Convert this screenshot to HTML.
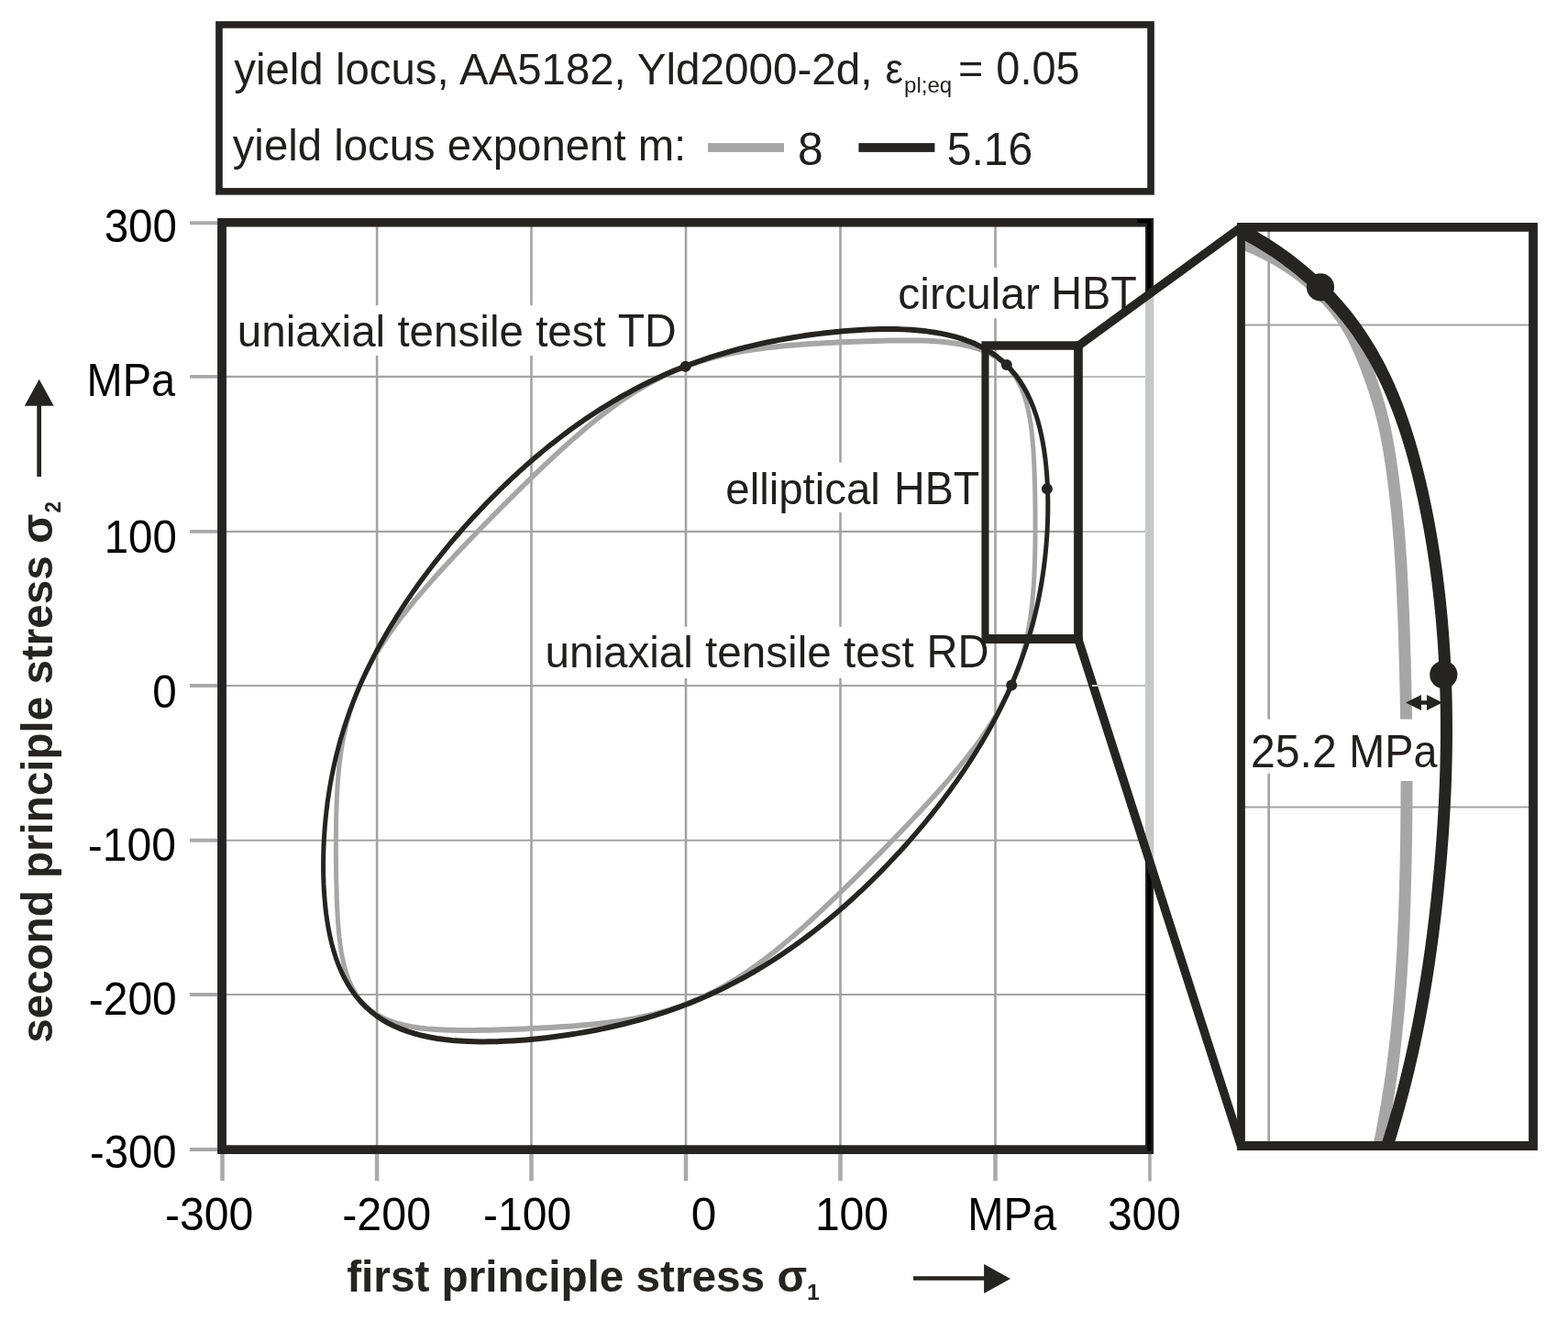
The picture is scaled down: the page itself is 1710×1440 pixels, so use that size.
<!DOCTYPE html>
<html lang="en"><head><meta charset="utf-8"><title>yield locus</title>
<style>html,body{margin:0;padding:0;background:#fff;}body{width:1710px;height:1440px;overflow:hidden;}svg{display:block;}text{font-family:"Liberation Sans",Arial,sans-serif;}</style></head><body>
<svg width="1710" height="1440" viewBox="0 0 1710 1440">
<rect width="1710" height="1440" fill="#fff"/>
<rect x="238.95" y="26.95" width="1016.1" height="181.9" fill="#fff" stroke="#262422" stroke-width="7.6"/>
<rect x="772" y="156.1" width="83" height="9.8" fill="#a6a6a6"/>
<rect x="936.4" y="156.1" width="83" height="9.8" fill="#262422"/>
<g stroke="#a3a3a3" fill="none">
<line x1="411.1" y1="243" x2="411.1" y2="1255" stroke-width="2.6"/>
<line x1="579.5" y1="243" x2="579.5" y2="1255" stroke-width="2.6"/>
<line x1="748.0" y1="243" x2="748.0" y2="1255" stroke-width="2.6"/>
<line x1="916.5" y1="243" x2="916.5" y2="1255" stroke-width="2.6"/>
<line x1="1085.5" y1="243" x2="1085.5" y2="1255" stroke-width="2.6"/>
<line x1="240" y1="410.9" x2="1253" y2="410.9" stroke-width="2.1"/>
<line x1="240" y1="579.9" x2="1253" y2="579.9" stroke-width="2.1"/>
<line x1="240" y1="748.0" x2="1253" y2="748.0" stroke-width="2.1"/>
<line x1="240" y1="916.7" x2="1253" y2="916.7" stroke-width="2.1"/>
<line x1="240" y1="1085.0" x2="1253" y2="1085.0" stroke-width="2.1"/>
</g>
<g stroke="#a9a9a9" fill="none">
<line x1="242.5" y1="1255" x2="242.5" y2="1288.3" stroke-width="4.5"/>
<line x1="411.1" y1="1255" x2="411.1" y2="1288.3" stroke-width="4.5"/>
<line x1="579.5" y1="1255" x2="579.5" y2="1288.3" stroke-width="4.5"/>
<line x1="748.0" y1="1255" x2="748.0" y2="1288.3" stroke-width="4.5"/>
<line x1="916.5" y1="1255" x2="916.5" y2="1288.3" stroke-width="4.5"/>
<line x1="1085.5" y1="1255" x2="1085.5" y2="1288.3" stroke-width="4.5"/>
<line x1="1254" y1="1257" x2="1254" y2="1288.6" stroke-width="3.5"/>
<line x1="207" y1="243.2" x2="240" y2="243.2" stroke-width="3.9"/>
<line x1="207" y1="410.9" x2="240" y2="410.9" stroke-width="3.9"/>
<line x1="207" y1="579.9" x2="240" y2="579.9" stroke-width="3.9"/>
<line x1="207" y1="748.0" x2="240" y2="748.0" stroke-width="3.9"/>
<line x1="207" y1="916.7" x2="240" y2="916.7" stroke-width="3.9"/>
<line x1="207" y1="1085.0" x2="240" y2="1085.0" stroke-width="3.9"/>
<line x1="207" y1="1254.0" x2="240" y2="1254.0" stroke-width="3.9"/>
</g>
<g fill="#fff">
<rect x="258" y="333.2" width="480" height="54.7"/>
<rect x="978" y="291.9" width="265" height="55.3"/>
<rect x="790" y="504.6" width="279" height="54.4"/>
<rect x="595" y="683.8" width="475" height="56.1"/>
</g>
<g transform="scale(1,1.2000)" fill="none" stroke-width="5.0" stroke-linejoin="round">
<path d="M1103.03,623.08 L1105.42,618.40 L1107.68,613.66 L1109.83,608.85 L1111.84,603.99 L1113.73,599.08 L1115.48,594.11 L1117.11,589.10 L1118.60,584.04 L1119.97,578.93 L1121.21,573.78 L1122.34,568.60 L1123.35,563.37 L1124.25,558.10 L1125.05,552.79 L1125.75,547.45 L1126.37,542.06 L1126.90,536.64 L1127.36,531.17 L1127.74,525.65 L1128.07,520.09 L1128.33,514.48 L1128.55,508.82 L1128.72,503.10 L1128.85,497.33 L1128.94,491.49 L1129.00,485.58 L1129.03,479.60 L1129.03,473.55 L1129.00,467.42 L1128.94,461.21 L1128.86,454.91 L1128.73,448.52 L1128.57,442.04 L1128.37,435.48 L1128.11,428.82 L1127.78,422.08 L1127.37,415.25 L1126.85,408.36 L1126.20,401.41 L1125.38,394.41 L1124.36,387.41 L1123.09,380.43 L1121.52,373.51 L1119.59,366.71 L1117.23,360.07 L1114.39,353.68 L1111.01,347.59 L1107.03,341.89 L1102.43,336.62 L1097.19,331.84 L1091.32,327.59 L1084.86,323.88 L1077.87,320.71 L1070.41,318.05 L1062.57,315.86 L1054.43,314.10 L1046.08,312.72 L1037.59,311.65 L1029.01,310.86 L1020.42,310.28 L1011.84,309.89 L1003.32,309.64 L994.87,309.51 L986.53,309.48 L978.29,309.51 L970.17,309.60 L962.17,309.74 L954.30,309.91 L946.55,310.11 L938.92,310.33 L931.41,310.58 L924.02,310.84 L916.73,311.11 L909.55,311.41 L902.47,311.71 L895.48,312.04 L888.58,312.38 L881.77,312.75 L875.04,313.14 L868.39,313.55 L861.81,314.00 L855.29,314.47 L848.84,314.99 L842.46,315.54 L836.13,316.14 L829.86,316.79 L823.64,317.49 L817.48,318.25 L811.37,319.07 L805.31,319.96 L799.31,320.91 L793.35,321.94 L787.45,323.04 L781.60,324.23 L775.80,325.50 L770.07,326.84 L764.38,328.28 L758.76,329.80 L753.20,331.40 L747.70,333.09 L742.27,334.87 L736.90,336.72 L731.60,338.66 L726.38,340.67 L721.23,342.75 L716.15,344.91 L711.14,347.12 L706.21,349.40 L701.36,351.73 L696.58,354.12 L691.88,356.55 L687.25,359.02 L682.70,361.53 L678.22,364.07 L673.82,366.64 L669.49,369.23 L665.22,371.85 L661.03,374.48 L656.90,377.12 L652.83,379.78 L648.83,382.44 L644.89,385.11 L641.00,387.78 L637.17,390.45 L633.40,393.13 L629.67,395.80 L626.00,398.46 L622.37,401.13 L618.78,403.79 L615.24,406.44 L611.74,409.09 L608.27,411.73 L604.84,414.37 L601.45,417.00 L598.08,419.62 L594.75,422.24 L591.44,424.85 L588.16,427.45 L584.90,430.05 L581.67,432.65 L578.46,435.24 L575.26,437.83 L572.08,440.41 L568.92,442.99 L565.77,445.57 L562.63,448.15 L559.51,450.73 L556.39,453.31 L553.28,455.90 L550.18,458.48 L547.08,461.07 L543.99,463.67 L540.89,466.27 L537.80,468.88 L534.71,471.49 L531.62,474.12 L528.52,476.75 L525.42,479.40 L522.31,482.06 L519.20,484.74 L516.08,487.43 L512.95,490.14 L509.82,492.87 L506.67,495.61 L503.51,498.38 L500.34,501.18 L497.16,503.99 L493.96,506.84 L490.75,509.71 L487.53,512.61 L484.29,515.55 L481.04,518.52 L477.77,521.52 L474.49,524.56 L471.20,527.64 L467.89,530.76 L464.57,533.93 L461.24,537.14 L457.90,540.40 L454.55,543.71 L451.20,547.07 L447.84,550.49 L444.49,553.96 L441.13,557.49 L437.79,561.08 L434.45,564.73 L431.13,568.45 L427.83,572.23 L424.56,576.09 L421.32,580.01 L418.12,584.00 L414.97,588.06 L411.87,592.19 L408.84,596.39 L405.87,600.66 L402.98,605.01 L400.18,609.43 L397.47,613.91 L394.87,618.46 L392.37,623.08 L389.98,627.77 L387.72,632.51 L385.57,637.31 L383.56,642.17 L381.67,647.09 L379.92,652.05 L378.29,657.07 L376.80,662.13 L375.43,667.23 L374.19,672.38 L373.06,677.57 L372.05,682.80 L371.15,688.07 L370.35,693.37 L369.65,698.72 L369.03,704.10 L368.50,709.53 L368.04,715.00 L367.66,720.51 L367.33,726.07 L367.07,731.68 L366.85,737.35 L366.68,743.06 L366.55,748.84 L366.46,754.68 L366.40,760.59 L366.37,766.56 L366.37,772.62 L366.40,778.75 L366.46,784.96 L366.54,791.26 L366.67,797.65 L366.83,804.12 L367.03,810.69 L367.29,817.35 L367.62,824.09 L368.03,830.91 L368.55,837.81 L369.20,844.76 L370.02,851.75 L371.04,858.76 L372.31,865.74 L373.88,872.66 L375.81,879.46 L378.17,886.09 L381.01,892.49 L384.39,898.57 L388.37,904.28 L392.97,909.55 L398.21,914.33 L404.08,918.58 L410.54,922.29 L417.53,925.46 L424.99,928.12 L432.83,930.31 L440.97,932.07 L449.32,933.45 L457.81,934.52 L466.39,935.31 L474.98,935.88 L483.56,936.28 L492.08,936.52 L500.53,936.65 L508.87,936.69 L517.11,936.66 L525.23,936.56 L533.23,936.43 L541.10,936.26 L548.85,936.06 L556.48,935.83 L563.99,935.59 L571.38,935.33 L578.67,935.05 L585.85,934.76 L592.93,934.45 L599.92,934.13 L606.82,933.78 L613.63,933.42 L620.36,933.03 L627.01,932.61 L633.59,932.17 L640.11,931.69 L646.56,931.18 L652.94,930.62 L659.27,930.03 L665.54,929.38 L671.76,928.68 L677.92,927.92 L684.03,927.10 L690.09,926.21 L696.09,925.26 L702.05,924.23 L707.95,923.12 L713.80,921.94 L719.60,920.67 L725.33,919.32 L731.02,917.89 L736.64,916.37 L742.20,914.76 L747.70,913.07 L753.13,911.30 L758.50,909.44 L763.80,907.51 L769.02,905.50 L774.17,903.41 L779.25,901.26 L784.26,899.04 L789.19,896.77 L794.04,894.43 L798.82,892.05 L803.52,889.62 L808.15,887.15 L812.70,884.64 L817.18,882.10 L821.58,879.53 L825.91,876.93 L830.18,874.32 L834.37,871.69 L838.50,869.04 L842.57,866.39 L846.57,863.73 L850.51,861.06 L854.40,858.39 L858.23,855.71 L862.00,853.04 L865.73,850.37 L869.40,847.70 L873.03,845.04 L876.62,842.38 L880.16,839.72 L883.66,837.08 L887.13,834.43 L890.56,831.80 L893.95,829.17 L897.32,826.55 L900.65,823.93 L903.96,821.32 L907.24,818.71 L910.50,816.11 L913.73,813.52 L916.94,810.93 L920.14,808.34 L923.32,805.76 L926.48,803.17 L929.63,800.59 L932.77,798.01 L935.89,795.43 L939.01,792.85 L942.12,790.27 L945.22,787.68 L948.32,785.09 L951.41,782.50 L954.51,779.90 L957.60,777.29 L960.69,774.68 L963.78,772.05 L966.88,769.41 L969.98,766.77 L973.09,764.10 L976.20,761.43 L979.32,758.74 L982.45,756.03 L985.58,753.30 L988.73,750.55 L991.89,747.78 L995.06,744.99 L998.24,742.17 L1001.44,739.33 L1004.65,736.46 L1007.87,733.55 L1011.11,730.62 L1014.36,727.65 L1017.63,724.65 L1020.91,721.61 L1024.20,718.53 L1027.51,715.40 L1030.83,712.24 L1034.16,709.03 L1037.50,705.77 L1040.85,702.46 L1044.20,699.10 L1047.56,695.68 L1050.91,692.21 L1054.27,688.68 L1057.61,685.09 L1060.95,681.43 L1064.27,677.72 L1067.57,673.93 L1070.84,670.08 L1074.08,666.16 L1077.28,662.17 L1080.43,658.11 L1083.53,653.98 L1086.56,649.78 L1089.53,645.50 L1092.42,641.16 L1095.22,636.74 L1097.93,632.26 L1100.53,627.70Z" stroke="#a6a6a6"/>
<path d="M1102.79,623.08 L1105.19,618.40 L1107.54,613.66 L1109.83,608.85 L1112.07,603.98 L1114.26,599.04 L1116.37,594.04 L1118.43,588.98 L1120.41,583.85 L1122.33,578.65 L1124.17,573.39 L1125.94,568.07 L1127.63,562.69 L1129.24,557.24 L1130.77,551.73 L1132.21,546.16 L1133.57,540.52 L1134.85,534.82 L1136.03,529.07 L1137.13,523.25 L1138.14,517.37 L1139.05,511.43 L1139.87,505.42 L1140.60,499.36 L1141.23,493.24 L1141.76,487.06 L1142.19,480.82 L1142.51,474.53 L1142.73,468.18 L1142.83,461.77 L1142.82,455.32 L1142.67,448.81 L1142.40,442.26 L1141.98,435.67 L1141.40,429.05 L1140.67,422.41 L1139.75,415.75 L1138.63,409.09 L1137.30,402.44 L1135.74,395.81 L1133.93,389.24 L1131.85,382.73 L1129.46,376.31 L1126.76,370.01 L1123.72,363.86 L1120.32,357.87 L1116.55,352.10 L1112.39,346.55 L1107.82,341.27 L1102.86,336.27 L1097.50,331.58 L1091.75,327.22 L1085.62,323.21 L1079.14,319.54 L1072.34,316.23 L1065.24,313.26 L1057.87,310.64 L1050.29,308.34 L1042.52,306.35 L1034.59,304.66 L1026.56,303.24 L1018.43,302.07 L1010.26,301.13 L1002.06,300.40 L993.85,299.85 L985.66,299.48 L977.51,299.26 L969.40,299.18 L961.36,299.21 L953.38,299.36 L945.48,299.61 L937.67,299.94 L929.94,300.36 L922.29,300.85 L914.74,301.41 L907.28,302.03 L899.92,302.71 L892.64,303.44 L885.45,304.23 L878.36,305.06 L871.35,305.95 L864.43,306.88 L857.60,307.86 L850.85,308.88 L844.18,309.95 L837.59,311.06 L831.09,312.21 L824.66,313.41 L818.30,314.65 L812.03,315.94 L805.82,317.26 L799.70,318.63 L793.64,320.05 L787.65,321.50 L781.74,323.00 L775.90,324.54 L770.12,326.12 L764.41,327.74 L758.78,329.40 L753.20,331.10 L747.70,332.83 L742.26,334.61 L736.89,336.42 L731.58,338.27 L726.34,340.16 L721.16,342.08 L716.05,344.03 L710.99,346.01 L706.00,348.02 L701.07,350.07 L696.20,352.14 L691.40,354.24 L686.65,356.37 L681.95,358.52 L677.32,360.69 L672.74,362.89 L668.22,365.11 L663.75,367.35 L659.33,369.62 L654.97,371.90 L650.66,374.20 L646.40,376.52 L642.19,378.85 L638.02,381.20 L633.90,383.57 L629.83,385.95 L625.81,388.35 L621.82,390.76 L617.88,393.19 L613.99,395.63 L610.13,398.08 L606.31,400.55 L602.53,403.02 L598.78,405.51 L595.07,408.02 L591.40,410.53 L587.76,413.06 L584.15,415.59 L580.57,418.15 L577.02,420.71 L573.50,423.28 L570.01,425.87 L566.55,428.47 L563.11,431.08 L559.70,433.71 L556.32,436.35 L552.95,439.00 L549.61,441.67 L546.29,444.35 L542.99,447.05 L539.71,449.76 L536.45,452.49 L533.21,455.23 L529.98,457.99 L526.77,460.77 L523.58,463.57 L520.40,466.38 L517.24,469.22 L514.08,472.07 L510.95,474.95 L507.82,477.85 L504.71,480.77 L501.61,483.71 L498.52,486.68 L495.44,489.67 L492.37,492.69 L489.30,495.74 L486.25,498.81 L483.21,501.91 L480.18,505.04 L477.15,508.21 L474.13,511.40 L471.13,514.63 L468.13,517.89 L465.14,521.19 L462.15,524.52 L459.18,527.89 L456.21,531.30 L453.26,534.75 L450.31,538.23 L447.38,541.77 L444.45,545.34 L441.54,548.96 L438.64,552.63 L435.76,556.34 L432.88,560.10 L430.03,563.91 L427.19,567.77 L424.37,571.68 L421.57,575.65 L418.79,579.67 L416.03,583.75 L413.30,587.88 L410.59,592.07 L407.92,596.32 L405.27,600.63 L402.66,604.99 L400.09,609.42 L397.55,613.91 L395.06,618.47 L392.61,623.08 L390.21,627.76 L387.86,632.51 L385.57,637.31 L383.33,642.19 L381.14,647.12 L379.03,652.12 L376.97,657.19 L374.99,662.32 L373.07,667.51 L371.23,672.77 L369.46,678.09 L367.77,683.48 L366.16,688.93 L364.63,694.44 L363.19,700.01 L361.83,705.65 L360.55,711.34 L359.37,717.10 L358.27,722.92 L357.26,728.80 L356.35,734.74 L355.53,740.74 L354.80,746.80 L354.17,752.92 L353.64,759.10 L353.21,765.34 L352.89,771.64 L352.67,777.99 L352.57,784.39 L352.58,790.85 L352.73,797.36 L353.00,803.91 L353.42,810.49 L354.00,817.11 L354.73,823.76 L355.65,830.42 L356.77,837.08 L358.10,843.73 L359.66,850.35 L361.47,856.93 L363.55,863.44 L365.94,869.85 L368.64,876.15 L371.68,882.31 L375.08,888.29 L378.85,894.07 L383.01,899.62 L387.58,904.90 L392.54,909.90 L397.90,914.58 L403.65,918.94 L409.78,922.96 L416.26,926.63 L423.06,929.94 L430.16,932.91 L437.53,935.53 L445.11,937.83 L452.88,939.81 L460.81,941.51 L468.84,942.93 L476.97,944.10 L485.14,945.04 L493.34,945.77 L501.55,946.31 L509.74,946.69 L517.89,946.91 L526.00,946.99 L534.04,946.95 L542.02,946.81 L549.92,946.56 L557.73,946.22 L565.46,945.81 L573.11,945.32 L580.66,944.76 L588.12,944.14 L595.48,943.46 L602.76,942.73 L609.95,941.94 L617.04,941.10 L624.05,940.22 L630.97,939.29 L637.80,938.31 L644.55,937.29 L651.22,936.22 L657.81,935.11 L664.31,933.95 L670.74,932.76 L677.10,931.51 L683.37,930.23 L689.58,928.90 L695.70,927.53 L701.76,926.12 L707.75,924.67 L713.66,923.17 L719.50,921.63 L725.28,920.05 L730.99,918.43 L736.62,916.77 L742.20,915.07 L747.70,913.33 L753.14,911.56 L758.51,909.74 L763.82,907.89 L769.06,906.01 L774.24,904.09 L779.35,902.14 L784.41,900.16 L789.40,898.14 L794.33,896.10 L799.20,894.03 L804.00,891.93 L808.75,889.80 L813.45,887.65 L818.08,885.47 L822.66,883.28 L827.18,881.05 L831.65,878.81 L836.07,876.55 L840.43,874.27 L844.74,871.97 L849.00,869.65 L853.21,867.31 L857.38,864.96 L861.50,862.59 L865.57,860.21 L869.59,857.81 L873.58,855.40 L877.52,852.98 L881.41,850.54 L885.27,848.09 L889.09,845.62 L892.87,843.14 L896.62,840.65 L900.33,838.15 L904.00,835.64 L907.64,833.11 L911.25,830.57 L914.83,828.02 L918.38,825.46 L921.90,822.88 L925.39,820.30 L928.85,817.70 L932.29,815.08 L935.70,812.46 L939.08,809.82 L942.45,807.16 L945.79,804.50 L949.11,801.82 L952.41,799.12 L955.69,796.41 L958.95,793.68 L962.19,790.94 L965.42,788.17 L968.63,785.40 L971.82,782.60 L975.00,779.78 L978.16,776.95 L981.32,774.09 L984.45,771.22 L987.58,768.32 L990.69,765.40 L993.79,762.45 L996.88,759.49 L999.96,756.49 L1003.03,753.47 L1006.10,750.43 L1009.15,747.36 L1012.19,744.25 L1015.22,741.12 L1018.25,737.96 L1021.27,734.77 L1024.27,731.54 L1027.27,728.28 L1030.26,724.98 L1033.25,721.65 L1036.22,718.28 L1039.19,714.87 L1042.14,711.42 L1045.09,707.93 L1048.02,704.40 L1050.95,700.83 L1053.86,697.21 L1056.76,693.54 L1059.64,689.83 L1062.52,686.07 L1065.37,682.26 L1068.21,678.40 L1071.03,674.48 L1073.83,670.52 L1076.61,666.50 L1079.37,662.42 L1082.10,658.29 L1084.81,654.10 L1087.48,649.85 L1090.13,645.54 L1092.74,641.17 L1095.31,636.74 L1097.85,632.25 L1100.34,627.70Z" stroke="#262422"/>
</g>
<circle cx="747.6" cy="399.8" r="6" fill="#262422"/>
<circle cx="1097.8" cy="398" r="6" fill="#262422"/>
<circle cx="1141.9" cy="533.2" r="6" fill="#262422"/>
<circle cx="1103.2" cy="747.4" r="6" fill="#262422"/>
<path fill-rule="evenodd" fill="#262422" d="M237.1,238.1 H1258.1 V1258.9 H237.1 Z M246.95,247.5 V1249.2 H1249 V247.5 Z"/>
<path d="M1242.4,241.1 H1253.4 V1253.7" fill="none" stroke="#000" stroke-width="4.7" stroke-linecap="round" stroke-linejoin="miter"/>
<clipPath id="tz"><polygon points="1176,377.3 1354,247.5 1354,1250 1176,696.6"/></clipPath>
<g clip-path="url(#tz)">
<rect x="1248.8" y="230" width="9.6" height="1030" fill="#fff"/><rect x="1249" y="230" width="9.1" height="1030" fill="#c6c8c7"/>
<rect x="1180" y="407.9" width="69.2" height="6" fill="#fff"/><line x1="1180" y1="410.9" x2="1249.2" y2="410.9" stroke="#bcbebd" stroke-width="2"/>
<rect x="1180" y="576.9" width="69.2" height="6" fill="#fff"/><line x1="1180" y1="579.9" x2="1249.2" y2="579.9" stroke="#bcbebd" stroke-width="2"/>
<rect x="1180" y="745.0" width="69.2" height="6" fill="#fff"/><line x1="1180" y1="748.0" x2="1249.2" y2="748.0" stroke="#bcbebd" stroke-width="2"/>
</g>
<path fill-rule="evenodd" fill="#262422" d="M1070.4,372.2 H1180.8 V701.9 H1070.4 Z M1078.5,381.8 V692.1 H1171.1 V381.8 Z"/>
<g stroke="#262422" stroke-width="9.4" stroke-linecap="butt"><line x1="1176" y1="377.3" x2="1354" y2="247.5"/><line x1="1175.6" y1="696.6" x2="1353.4" y2="1250"/></g>
<line x1="1190.9" y1="748.0" x2="1200" y2="748.0" stroke="#c4c6c5" stroke-width="2"/>
<rect x="1354.1" y="247.9" width="318" height="1002" fill="#fff" stroke="none"/>
<clipPath id="zc"><rect x="1354.1" y="247.9" width="318" height="1002"/></clipPath>
<g clip-path="url(#zc)">
<g stroke="#a3a3a3" stroke-width="2"><line x1="1383.7" y1="240" x2="1383.7" y2="1260" stroke-width="2.7"/><line x1="1350" y1="354.4" x2="1680" y2="354.4"/><line x1="1350" y1="880.6" x2="1680" y2="880.6"/></g>
<path transform="scale(1,1.2)" d="M1334.52,214.97 L1339.88,216.27 L1345.22,217.67 L1350.53,219.19 L1355.80,220.81 L1361.04,222.54 L1366.24,224.36 L1371.39,226.29 L1376.50,228.31 L1381.55,230.44 L1386.54,232.65 L1391.47,234.96 L1396.33,237.35 L1401.12,239.84 L1405.83,242.41 L1410.46,245.07 L1415.01,247.81 L1419.47,250.64 L1423.84,253.54 L1428.10,256.52 L1432.27,259.57 L1436.33,262.70 L1440.28,265.91 L1444.11,269.18 L1447.82,272.52 L1451.41,275.92 L1454.87,279.40 L1458.20,282.93 L1461.39,286.53 L1464.44,290.18 L1467.34,293.89 L1470.09,297.66 L1472.71,301.48 L1475.19,305.36 L1477.55,309.28 L1479.81,313.25 L1481.97,317.27 L1484.06,321.33 L1486.07,325.43 L1488.03,329.58 L1489.95,333.76 L1491.83,337.98 L1493.69,342.24 L1495.51,346.53 L1497.30,350.85 L1499.03,355.20 L1500.72,359.58 L1502.34,363.99 L1503.91,368.42 L1505.40,372.87 L1506.82,377.34 L1508.15,381.83 L1509.41,386.34 L1510.59,390.86 L1511.71,395.39 L1512.76,399.94 L1513.76,404.50 L1514.70,409.06 L1515.60,413.63 L1516.45,418.20 L1517.28,422.77 L1518.06,427.35 L1518.82,431.93 L1519.55,436.51 L1520.25,441.08 L1520.92,445.66 L1521.56,450.24 L1522.17,454.83 L1522.76,459.41 L1523.32,463.99 L1523.86,468.57 L1524.37,473.16 L1524.86,477.74 L1525.33,482.33 L1525.77,486.92 L1526.20,491.50 L1526.60,496.09 L1526.99,500.68 L1527.36,505.26 L1527.71,509.85 L1528.04,514.44 L1528.36,519.03 L1528.66,523.62 L1528.95,528.21 L1529.22,532.79 L1529.49,537.38 L1529.74,541.97 L1529.97,546.56 L1530.20,551.15 L1530.42,555.74 L1530.63,560.33 L1530.84,564.92 L1531.03,569.50 L1531.22,574.09 L1531.41,578.68 L1531.58,583.27 L1531.75,587.85 L1531.92,592.44 L1532.08,597.03 L1532.23,601.61 L1532.38,606.20 L1532.52,610.78 L1532.66,615.37 L1532.79,619.96 L1532.91,624.54 L1533.03,629.12 L1533.14,633.71 L1533.24,638.29 L1533.34,642.88 L1533.43,647.46 L1533.51,652.04 L1533.59,656.62 L1533.66,661.21 L1533.73,665.79 L1533.79,670.37 L1533.84,674.95 L1533.88,679.53 L1533.92,684.11 L1533.96,688.69 L1533.98,693.27 L1534.00,697.85 L1534.01,702.43 L1534.02,707.01 L1534.02,711.59 L1534.01,716.17 L1533.99,720.75 L1533.97,725.32 L1533.94,729.90 L1533.91,734.48 L1533.87,739.05 L1533.82,743.63 L1533.76,748.21 L1533.70,752.78 L1533.63,757.36 L1533.55,761.93 L1533.47,766.50 L1533.37,771.08 L1533.28,775.65 L1533.17,780.23 L1533.06,784.80 L1532.94,789.37 L1532.81,793.94 L1532.67,798.52 L1532.53,803.09 L1532.38,807.66 L1532.22,812.23 L1532.06,816.80 L1531.88,821.37 L1531.70,825.94 L1531.51,830.51 L1531.30,835.08 L1531.09,839.64 L1530.86,844.21 L1530.62,848.78 L1530.37,853.35 L1530.11,857.91 L1529.84,862.48 L1529.55,867.05 L1529.25,871.61 L1528.93,876.18 L1528.60,880.74 L1528.26,885.31 L1527.89,889.87 L1527.52,894.43 L1527.12,899.00 L1526.71,903.56 L1526.28,908.12 L1525.84,912.68 L1525.37,917.25 L1524.89,921.81 L1524.38,926.37 L1523.86,930.93 L1523.32,935.49 L1522.76,940.05 L1522.17,944.61 L1521.56,949.17 L1520.94,953.72 L1520.28,958.28 L1519.61,962.84 L1518.91,967.40 L1518.19,971.95 L1517.45,976.51 L1516.68,981.06 L1515.88,985.62 L1515.06,990.17 L1514.22,994.73 L1513.34,999.28 L1512.44,1003.83 L1511.51,1008.39 L1510.56,1012.94 L1509.57,1017.49 L1508.56,1022.04 L1507.52,1026.59 L1506.45,1031.14 L1505.34,1035.69 L1504.21,1040.24 L1503.05,1044.79 L1501.85,1049.34 L1500.62,1053.89 L1499.36,1058.44" fill="none" stroke="#a6a6a6" stroke-width="12.9"/>
<rect x="1362" y="784.6" width="206" height="59.4" fill="#fff"/><rect x="1520" y="840" width="30" height="12" fill="#fff"/>
<path transform="scale(1,1.2)" d="M1335.11,202.45 L1340.39,204.45 L1345.62,206.52 L1350.82,208.66 L1355.96,210.87 L1361.07,213.15 L1366.12,215.49 L1371.13,217.90 L1376.09,220.37 L1380.99,222.90 L1385.85,225.49 L1390.65,228.15 L1395.39,230.87 L1400.08,233.64 L1404.71,236.47 L1409.28,239.36 L1413.79,242.31 L1418.24,245.31 L1422.62,248.37 L1426.94,251.48 L1431.19,254.64 L1435.37,257.86 L1439.48,261.12 L1443.53,264.43 L1447.50,267.80 L1451.40,271.21 L1455.22,274.67 L1458.96,278.17 L1462.63,281.72 L1466.22,285.31 L1469.73,288.95 L1473.16,292.63 L1476.50,296.35 L1479.76,300.11 L1482.93,303.91 L1486.02,307.75 L1489.03,311.63 L1491.96,315.54 L1494.81,319.49 L1497.58,323.47 L1500.28,327.49 L1502.91,331.54 L1505.46,335.62 L1507.95,339.73 L1510.36,343.87 L1512.71,348.04 L1514.99,352.24 L1517.21,356.47 L1519.36,360.73 L1521.45,365.00 L1523.49,369.31 L1525.46,373.63 L1527.38,377.98 L1529.25,382.35 L1531.06,386.75 L1532.82,391.16 L1534.53,395.59 L1536.19,400.04 L1537.80,404.50 L1539.37,408.98 L1540.90,413.48 L1542.38,417.99 L1543.82,422.51 L1545.23,427.05 L1546.59,431.59 L1547.92,436.15 L1549.22,440.72 L1550.48,445.29 L1551.71,449.88 L1552.91,454.47 L1554.07,459.07 L1555.20,463.67 L1556.31,468.28 L1557.38,472.90 L1558.42,477.53 L1559.43,482.16 L1560.41,486.80 L1561.35,491.45 L1562.27,496.10 L1563.16,500.76 L1564.02,505.42 L1564.85,510.08 L1565.65,514.75 L1566.42,519.43 L1567.17,524.10 L1567.88,528.79 L1568.57,533.47 L1569.23,538.16 L1569.86,542.85 L1570.47,547.55 L1571.05,552.25 L1571.60,556.94 L1572.12,561.65 L1572.62,566.35 L1573.09,571.05 L1573.54,575.76 L1573.96,580.46 L1574.36,585.17 L1574.73,589.88 L1575.07,594.59 L1575.40,599.29 L1575.69,604.00 L1575.97,608.71 L1576.22,613.41 L1576.44,618.11 L1576.65,622.82 L1576.83,627.52 L1576.98,632.22 L1577.12,636.92 L1577.23,641.61 L1577.32,646.31 L1577.39,651.01 L1577.43,655.70 L1577.46,660.39 L1577.46,665.08 L1577.44,669.77 L1577.40,674.46 L1577.34,679.15 L1577.26,683.83 L1577.16,688.52 L1577.04,693.20 L1576.90,697.88 L1576.74,702.56 L1576.56,707.24 L1576.36,711.92 L1576.14,716.60 L1575.90,721.27 L1575.64,725.94 L1575.37,730.61 L1575.08,735.28 L1574.76,739.95 L1574.43,744.62 L1574.09,749.29 L1573.72,753.95 L1573.34,758.61 L1572.94,763.27 L1572.52,767.93 L1572.09,772.59 L1571.64,777.25 L1571.17,781.90 L1570.69,786.55 L1570.19,791.21 L1569.68,795.86 L1569.15,800.50 L1568.61,805.15 L1568.05,809.79 L1567.47,814.44 L1566.88,819.08 L1566.27,823.72 L1565.65,828.36 L1565.01,832.99 L1564.35,837.63 L1563.67,842.26 L1562.98,846.89 L1562.27,851.52 L1561.54,856.15 L1560.79,860.78 L1560.02,865.40 L1559.23,870.03 L1558.43,874.65 L1557.60,879.27 L1556.75,883.88 L1555.88,888.50 L1554.99,893.11 L1554.08,897.72 L1553.15,902.34 L1552.19,906.94 L1551.22,911.55 L1550.22,916.15 L1549.19,920.76 L1548.15,925.36 L1547.08,929.96 L1545.99,934.55 L1544.87,939.15 L1543.73,943.74 L1542.56,948.33 L1541.37,952.92 L1540.16,957.51 L1538.91,962.09 L1537.64,966.68 L1536.35,971.26 L1535.03,975.84 L1533.68,980.42 L1532.31,984.99 L1530.90,989.56 L1529.47,994.13 L1528.01,998.70 L1526.53,1003.27 L1525.01,1007.84 L1523.47,1012.40 L1521.89,1016.96 L1520.29,1021.52 L1518.65,1026.07 L1516.99,1030.63 L1515.29,1035.18 L1513.57,1039.73 L1511.81,1044.28 L1510.02,1048.83 L1508.20,1053.37 L1506.34,1057.91" fill="none" stroke="#262422" stroke-width="13"/>
<circle cx="1440" cy="313.3" r="15.1" fill="#262422"/><circle cx="1574.3" cy="736" r="15.1" fill="#262422"/>
<path d="M1533,766.5 L1550,757.9 L1550,764.2 L1556,764.2 L1556,757.9 L1573,766.5 L1556,775.1 L1556,768.8 L1550,768.8 L1550,775.1 Z" fill="#262422"/>
</g>
<path fill-rule="evenodd" fill="#262422" d="M1349.1,243.05 H1676.9 V1254.9 H1349.1 Z M1357.9,252.8 V1244.9 H1667.1 V252.8 Z"/>
<text transform="translate(255.20,91.60) scale(0.9797,1)" font-size="48.4" fill="#211f1e">yield locus,</text>
<text transform="translate(501.10,91.60) scale(0.9783,1)" font-size="48.4" fill="#211f1e">AA5182,</text>
<text transform="translate(694.65,91.60) scale(0.9840,1)" font-size="48.4" fill="#211f1e">Yld2000-2d,</text>
<text transform="translate(965.60,91.40) scale(0.9355,1)" font-size="46.5" fill="#211f1e">ε</text>
<text transform="translate(986.06,100.90) scale(1.0449,1)" font-size="23.0" fill="#211f1e">pl;eq</text>
<text transform="translate(1045.00,90.60) scale(0.9944,1)" font-size="47.0" fill="#211f1e">=</text>
<text transform="translate(1086.36,91.60) scale(0.9471,1)" font-size="49.4" fill="#211f1e">0.05</text>
<text transform="translate(253.70,175.00) scale(0.9780,1)" font-size="48.4" fill="#211f1e">yield locus exponent m:</text>
<text transform="translate(869.91,179.60) scale(1.0058,1)" font-size="49.4" fill="#211f1e">8</text>
<text transform="translate(1032.78,179.60) scale(0.9703,1)" font-size="49.4" fill="#211f1e">5.16</text>
<text transform="translate(258.84,377.60) scale(0.9832,1)" font-size="48.4" fill="#211f1e">uniaxial tensile test</text>
<text transform="translate(673.64,377.60) scale(0.9568,1)" font-size="50.2" fill="#211f1e">TD</text>
<text transform="translate(979.18,336.90) scale(0.9928,1)" font-size="48.4" fill="#211f1e">circular</text>
<text transform="translate(1146.36,336.90) scale(0.9314,1)" font-size="50.2" fill="#211f1e">HBT</text>
<text transform="translate(791.31,549.70) scale(0.9784,1)" font-size="48.4" fill="#211f1e">elliptical</text>
<text transform="translate(975.08,549.70) scale(0.9272,1)" font-size="50.2" fill="#211f1e">HBT</text>
<text transform="translate(594.44,727.60) scale(0.9840,1)" font-size="48.4" fill="#211f1e">uniaxial tensile test</text>
<text transform="translate(1010.43,727.60) scale(0.9377,1)" font-size="50.2" fill="#211f1e">RD</text>
<text transform="translate(1363.89,837.00) scale(0.9760,1)" font-size="49.4" fill="#211f1e">25.2</text>
<text transform="translate(1471.26,837.00) scale(0.9316,1)" font-size="50.2" fill="#211f1e">MPa</text>
<text transform="translate(378.18,1409.00) scale(0.9857,1)" font-size="48.4" fill="#262422" font-weight="bold">first principle stress σ</text>
<text transform="translate(113.63,263.70) scale(0.9632,1)" font-size="49.4" fill="#000">300</text>
<text transform="translate(94.54,432.00) scale(0.9357,1)" font-size="50.2" fill="#000">MPa</text>
<text transform="translate(113.75,603.10) scale(0.9593,1)" font-size="49.4" fill="#000">100</text>
<text transform="translate(166.33,772.10) scale(0.9641,1)" font-size="49.4" fill="#000">0</text>
<text transform="translate(95.68,939.10) scale(0.9736,1)" font-size="49.4" fill="#000">-100</text>
<text transform="translate(96.78,1106.70) scale(0.9715,1)" font-size="49.4" fill="#000">-200</text>
<text transform="translate(98.01,1273.60) scale(0.9568,1)" font-size="49.4" fill="#000">-300</text>
<text transform="translate(179.88,1341.90) scale(0.9736,1)" font-size="49.4" fill="#000">-300</text>
<text transform="translate(373.27,1341.90) scale(0.9789,1)" font-size="49.4" fill="#000">-200</text>
<text transform="translate(527.08,1341.90) scale(0.9726,1)" font-size="49.4" fill="#000">-100</text>
<text transform="translate(753.67,1341.90) scale(1.0017,1)" font-size="49.4" fill="#000">0</text>
<text transform="translate(888.90,1341.90) scale(0.9723,1)" font-size="49.4" fill="#000">100</text>
<text transform="translate(1055.33,1341.90) scale(0.9377,1)" font-size="50.2" fill="#000">MPa</text>
<text transform="translate(1208.03,1341.90) scale(0.9682,1)" font-size="49.4" fill="#000">300</text>
<text transform="translate(880.04,1417.9)" font-size="24.7" fill="#262422" font-weight="bold">1</text>
<path d="M996,1392.2 H1073.1 V1379 L1102,1395 L1073.1,1410.9 V1396.8 H996 Z" fill="#262422"/>
<path d="M40.3,520 V442.8 H26.8 L42.7,413.8 L58.7,442.8 H45 V520 Z" fill="#262422"/>
<g transform="translate(57.3,1136.1) rotate(-90)"><text transform="translate(-1.67,0.00) scale(0.9833,1)" font-size="48.4" fill="#262422" font-weight="bold">second principle stress σ</text><text transform="translate(576.63,8.80) scale(0.9154,1)" font-size="24.3" fill="#262422" font-weight="bold">2</text></g>
</svg></body></html>
